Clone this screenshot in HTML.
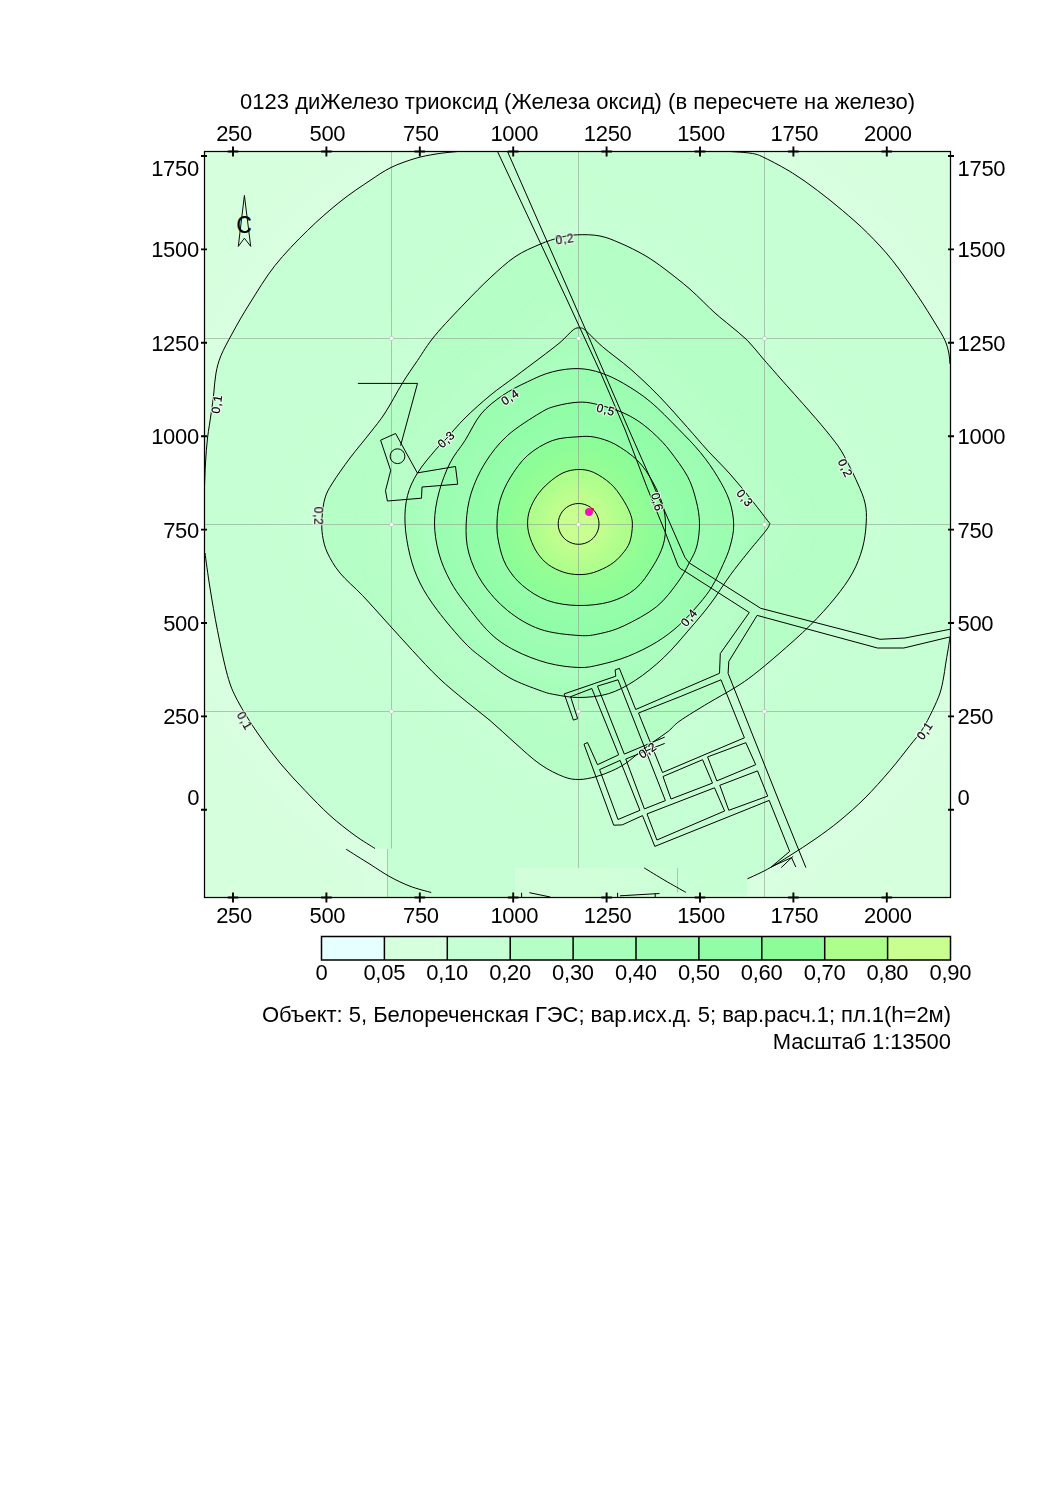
<!DOCTYPE html>
<html lang="ru"><head><meta charset="utf-8"><title>0123 диЖелезо триоксид</title>
<style>
html,body{margin:0;padding:0;background:#fff}
body{width:1060px;height:1499px;overflow:hidden}
svg{display:block}
text{font-family:"Liberation Sans",sans-serif;fill:#000}
.t{font-size:22px}
.l{font-size:12px;letter-spacing:.7px;fill:#f6fff6;stroke:#f6fff6;stroke-width:2.4px;opacity:.9;stroke-linejoin:round}
.m{font-size:12px;letter-spacing:.7px;stroke:#000;stroke-width:.2px}
.c{fill:none;stroke:#000;stroke-width:1}
.r{fill:none;stroke:#000;stroke-width:1;stroke-linejoin:miter}
.g{stroke:#8fa492;stroke-opacity:.62;stroke-width:1}
</style></head><body>
<svg width="1060" height="1499" viewBox="0 0 1060 1499">
<defs><clipPath id="cp"><rect x="204.5" y="151.5" width="746.0" height="746.0"/></clipPath>
<linearGradient id="fade" x1="0" x2="1" y1="0" y2="0"><stop offset="0" stop-color="#d2ffda"/><stop offset=".55" stop-color="#cfffd8"/><stop offset="1" stop-color="#c6ffd3" stop-opacity="0"/></linearGradient>
</defs>
<rect width="1060" height="1499" fill="#fff"/>

<defs>
<path id="p1" d="M457.5 140L457.5 151.5C453.9 151.9 443.1 152.8 436.0 154.0C428.9 155.2 422.5 156.2 415.0 158.5C407.5 160.8 398.5 163.8 391.0 167.5C383.5 171.2 378.5 174.8 370.0 180.5C361.5 186.2 350.4 193.4 340.0 201.8C329.6 210.1 318.3 219.9 307.5 230.5C296.7 241.1 284.6 253.4 275.0 265.5C265.4 277.6 257.1 291.8 250.0 303.0C242.9 314.2 237.3 324.2 232.5 333.0C227.7 341.8 223.8 348.8 221.0 355.5C218.2 362.2 217.2 366.8 216.0 373.0C214.8 379.2 214.5 386.3 213.8 393.0C213.0 399.7 212.3 405.5 211.2 413.0C210.2 420.5 208.5 429.7 207.5 438.0C206.5 446.3 206.0 455.1 205.5 463.0C205.0 470.9 204.7 481.8 204.5 485.5L195 485.5L195 553L205.0 553.0C205.8 558.8 207.9 575.1 210.0 588.0C212.1 600.9 214.6 615.9 217.5 630.5C220.4 645.1 224.2 663.8 227.5 675.5C230.8 687.2 232.5 690.9 237.5 700.5C242.5 710.1 250.4 722.6 257.5 733.0C264.6 743.4 272.1 753.4 280.0 763.0C287.9 772.6 296.7 781.8 305.0 790.5C313.3 799.2 321.7 808.0 330.0 815.5C338.3 823.0 347.5 830.0 355.0 835.5C362.5 841.0 371.7 846.3 375.0 848.5L388 848.5L388 905L747 905L747 879L747.5 878.8C750.8 877.2 760.4 873.1 767.5 869.2C774.6 865.4 782.1 860.5 790.0 855.5C797.9 850.5 806.7 845.1 815.0 839.2C823.3 833.4 831.7 827.4 840.0 820.5C848.3 813.6 856.7 806.3 865.0 798.0C873.3 789.7 882.5 779.2 890.0 770.5C897.5 761.8 904.7 752.2 910.0 745.5C915.3 738.8 918.2 735.8 922.0 730.0C925.8 724.2 929.5 716.7 932.5 710.5C935.5 704.3 938.2 698.4 940.0 693.0C941.8 687.6 942.6 682.7 943.5 678.0C944.4 673.3 944.8 669.7 945.5 665.0C946.2 660.3 947.2 654.7 948.0 650.0C948.8 645.3 949.7 639.2 950.0 637.0L960 637L960 364L950.0 364.0C949.8 362.2 949.6 356.9 948.8 353.0C947.9 349.1 947.3 345.5 945.0 340.5C942.7 335.5 939.6 330.5 935.0 323.0C930.4 315.5 924.6 305.9 917.5 295.5C910.4 285.1 900.8 270.9 892.5 260.5C884.2 250.1 875.8 241.3 867.5 233.0C859.2 224.7 850.8 217.6 842.5 210.5C834.2 203.4 825.8 196.8 817.5 190.5C809.2 184.2 801.2 178.4 792.5 173.0C783.8 167.6 771.7 161.2 765.0 158.0C758.3 154.8 758.3 154.6 752.5 153.5C746.7 152.4 733.8 151.8 730.0 151.5L730 140Z"/>
<path id="p2" d="M577.5 234.8C584.2 234.5 592.9 234.6 600.0 236.0C607.1 237.4 612.5 239.8 620.0 243.0C627.5 246.2 637.5 251.1 645.0 255.5C652.5 259.9 657.5 263.6 665.0 269.2C672.5 274.9 681.7 282.0 690.0 289.2C698.3 296.5 708.3 307.0 715.0 313.0C721.7 319.0 724.6 320.9 730.0 325.5C735.4 330.1 742.1 335.1 747.5 340.5C752.9 345.9 757.1 351.8 762.5 358.0C767.9 364.2 772.1 369.0 780.0 378.0C787.9 387.0 801.7 402.2 810.0 411.8C818.3 421.3 824.6 428.6 830.0 435.5C835.4 442.4 837.9 445.1 842.5 453.0C847.1 460.9 853.8 474.7 857.5 483.0C861.2 491.3 863.5 496.3 865.0 503.0C866.5 509.7 866.7 515.5 866.2 523.0C865.8 530.5 864.8 539.7 862.5 548.0C860.2 556.3 857.1 564.7 852.5 573.0C847.9 581.3 842.1 589.2 835.0 598.0C827.9 606.8 819.3 616.2 810.0 625.5C800.7 634.8 788.5 645.4 779.1 653.6C769.7 661.8 760.9 669.1 753.6 674.8C746.3 680.4 742.8 682.8 735.2 687.5C727.7 692.2 717.5 697.6 708.3 703.1C699.1 708.6 686.7 716.1 680.0 720.8C673.3 725.5 672.5 728.0 668.2 731.4C663.9 734.8 658.8 737.9 654.1 741.3C649.4 744.7 644.7 748.3 640.0 752.0C635.3 755.7 630.5 760.1 625.8 763.3C621.1 766.5 616.6 768.8 611.6 771.0C606.6 773.2 601.4 775.3 596.0 776.7C590.6 778.1 584.4 779.5 579.0 779.5C573.6 779.5 570.0 779.2 563.5 776.7C557.0 774.2 548.1 769.9 540.0 764.2C531.9 758.6 523.3 750.3 515.0 743.0C506.7 735.7 498.3 727.6 490.0 720.5C481.7 713.4 473.5 707.6 465.0 700.5C456.5 693.4 447.5 686.3 438.8 678.0C430.0 669.7 421.0 659.7 412.5 650.5C404.0 641.3 395.8 632.2 387.5 623.0C379.2 613.8 370.4 603.8 362.5 595.5C354.6 587.2 345.8 580.1 340.0 573.0C334.2 565.9 330.4 559.2 327.5 553.0C324.6 546.8 323.4 541.3 322.5 535.5C321.6 529.7 321.6 524.2 322.0 518.0C322.4 511.8 323.2 503.8 325.0 498.0C326.8 492.2 328.3 489.7 332.5 483.0C336.7 476.3 343.8 466.3 350.0 458.0C356.2 449.7 364.2 440.5 370.0 433.0C375.8 425.5 379.6 421.3 385.0 413.0C390.4 404.7 397.1 391.8 402.5 383.0C407.9 374.2 412.1 368.4 417.5 360.5C422.9 352.6 427.1 345.1 435.0 335.5C442.9 325.9 455.8 312.6 465.0 303.0C474.2 293.4 481.7 285.7 490.0 278.0C498.3 270.3 506.7 262.4 515.0 256.8C523.3 251.1 532.5 247.5 540.0 244.2C547.5 241.0 553.8 239.1 560.0 237.5C566.2 235.9 570.8 235.0 577.5 234.8Z"/>
<path id="p3" d="M579.8 328.0C581.8 328.1 581.7 327.3 585.5 330.4C589.3 333.5 595.0 340.2 602.5 346.7C610.0 353.2 621.4 361.1 630.8 369.3C640.2 377.6 649.7 386.5 659.1 396.2C668.5 405.9 679.4 418.4 687.4 427.4C695.4 436.4 700.1 442.2 707.2 450.0C714.3 457.8 722.9 466.0 730.0 474.0C737.1 482.0 743.8 490.2 750.0 498.0C756.2 505.8 764.2 516.1 767.5 520.5C770.8 524.9 769.9 522.4 769.5 524.2C769.1 526.1 768.7 527.0 765.0 531.8C761.3 536.5 753.3 545.7 747.5 553.0C741.7 560.3 736.2 567.0 730.0 575.5C723.8 584.0 717.0 595.2 710.4 603.9C703.8 612.6 698.4 618.9 690.6 627.9C682.8 636.9 672.9 648.9 663.7 657.6C654.5 666.3 644.6 674.3 635.4 680.3C626.2 686.3 617.9 690.8 608.5 693.7C599.1 696.6 587.9 697.4 579.0 697.5C570.1 697.6 561.5 695.8 555.0 694.6C548.5 693.4 547.5 693.3 540.0 690.5C532.5 687.7 519.2 683.1 510.0 678.0C500.8 672.9 492.5 665.8 485.0 660.0C477.5 654.2 472.9 651.2 465.0 643.0C457.1 634.8 445.0 620.5 437.5 610.5C430.0 600.5 424.6 592.2 420.0 583.0C415.4 573.8 412.5 565.5 410.0 555.5C407.5 545.5 405.4 533.0 405.0 523.0C404.6 513.0 405.4 503.8 407.5 495.5C409.6 487.2 412.9 480.5 417.5 473.0C422.1 465.5 430.2 456.2 435.0 450.5C439.8 444.8 441.0 444.4 446.0 439.0C451.0 433.6 457.7 425.2 465.0 418.0C472.3 410.8 481.7 402.4 490.0 395.5C498.3 388.6 506.7 383.0 515.0 376.8C523.3 370.5 532.5 363.7 540.0 358.0C547.5 352.3 554.4 347.2 560.0 342.5C565.6 337.8 570.1 332.1 573.4 329.7C576.7 327.3 577.8 327.9 579.8 328.0Z"/>
<path id="p4" d="M578.4 368.6C586.5 368.8 593.5 370.4 601.0 372.9C608.5 375.4 615.4 378.7 623.7 383.5C632.0 388.3 641.6 394.4 650.6 401.9C659.6 409.4 669.7 420.1 678.0 428.5C686.3 436.9 693.9 444.6 700.5 452.6C707.1 460.6 712.7 468.7 717.5 476.7C722.3 484.7 726.8 492.8 729.5 500.8C732.2 508.8 733.6 517.3 733.7 524.8C733.8 532.3 732.0 539.4 730.2 546.0C728.4 552.6 726.2 557.6 723.1 564.4C720.0 571.2 715.8 580.3 711.8 586.9C707.8 593.5 704.5 597.5 699.1 603.9C693.7 610.3 686.3 618.7 679.2 625.1C672.1 631.5 665.1 636.9 656.6 642.1C648.1 647.3 637.7 652.4 628.3 656.2C618.9 660.0 608.3 662.8 600.0 664.7C591.7 666.6 587.5 667.8 578.8 667.5C570.0 667.2 558.1 665.8 547.5 663.0C536.9 660.2 524.6 655.5 515.0 650.5C505.4 645.5 498.3 640.9 490.0 633.0C481.7 625.1 471.7 611.8 465.0 603.0C458.3 594.2 454.4 588.8 450.0 580.5C445.6 572.2 441.3 562.6 438.8 553.0C436.2 543.4 434.5 533.0 434.5 523.0C434.5 513.0 436.2 503.0 438.8 493.0C441.3 483.0 445.6 471.8 450.0 463.0C454.4 454.2 459.8 448.7 465.0 440.5C470.2 432.3 474.8 421.5 481.0 414.0C487.2 406.5 494.8 400.9 502.5 395.5C510.2 390.1 519.2 385.7 527.5 381.8C535.8 377.8 544.0 373.9 552.5 371.8C561.0 369.6 570.3 368.4 578.4 368.6Z"/>
<path id="p5" d="M578.4 402.2C585.0 401.9 588.3 402.4 595.4 404.0C602.5 405.6 613.5 408.9 620.8 411.8C628.1 414.8 633.3 417.7 639.2 421.7C645.1 425.7 651.1 430.9 656.2 435.8C661.3 440.7 664.8 444.2 670.0 451.0C675.2 457.8 683.3 468.4 687.7 476.7C692.1 485.0 694.2 493.0 696.2 500.8C698.2 508.6 699.4 515.9 699.5 523.4C699.6 530.9 698.6 539.4 696.9 546.0C695.2 552.6 692.4 557.0 689.2 563.0C686.1 569.0 683.4 574.7 678.0 582.0C672.6 589.3 665.6 599.4 656.6 606.7C647.6 614.0 633.4 621.3 624.0 625.8C614.6 630.3 607.5 632.0 600.0 633.6C592.5 635.2 588.8 636.2 578.8 635.5C568.8 634.8 551.9 633.4 540.0 629.2C528.1 625.1 517.1 618.2 507.5 610.5C497.9 602.8 489.0 592.6 482.5 583.0C476.0 573.4 471.5 563.0 468.8 553.0C466.0 543.0 465.8 533.0 466.2 523.0C466.7 513.0 468.1 503.0 471.2 493.0C474.4 483.0 479.0 472.6 485.0 463.0C491.0 453.4 498.3 443.8 507.5 435.5C516.7 427.2 531.9 417.9 540.0 413.0C548.1 408.1 549.6 407.8 556.0 406.0C562.4 404.2 571.8 402.5 578.4 402.2Z"/>
<path id="p6" d="M578.0 436.8C585.1 436.2 588.8 436.0 595.0 437.2C601.2 438.5 607.9 440.4 615.0 444.2C622.1 448.1 631.2 454.3 637.5 460.5C643.8 466.7 648.4 474.2 652.5 481.5C656.6 488.8 660.2 496.9 662.4 504.0C664.6 511.1 665.4 517.2 665.5 524.0C665.6 530.8 665.4 537.8 663.2 545.0C661.0 552.2 657.2 559.6 652.5 567.0C647.8 574.4 642.1 583.5 635.0 589.2C627.9 595.0 619.5 599.0 610.0 601.8C600.5 604.5 588.4 605.7 578.0 605.5C567.6 605.3 556.8 603.8 547.5 600.5C538.2 597.2 529.4 591.3 522.5 585.5C515.6 579.7 510.2 572.6 506.2 565.5C502.3 558.4 500.3 550.1 498.8 543.0C497.2 535.9 496.8 530.1 497.0 523.0C497.2 515.9 497.8 508.0 500.0 500.5C502.2 493.0 505.4 485.5 510.0 478.0C514.6 470.5 520.4 461.8 527.5 455.5C534.6 449.2 544.1 443.6 552.5 440.5C560.9 437.4 570.9 437.3 578.0 436.8Z"/>
<path id="p7" d="M578.3 469.5C583.4 469.4 588.2 470.0 593.6 472.4C599.0 474.8 605.9 479.5 610.6 483.7C615.3 487.9 618.7 493.0 621.9 497.8C625.1 502.6 628.0 508.1 629.8 512.5C631.5 516.9 632.4 519.5 632.4 524.4C632.4 529.3 631.5 537.0 629.8 542.0C628.0 547.0 625.1 550.6 621.9 554.4C618.7 558.2 615.3 561.6 610.6 564.6C605.9 567.6 599.0 570.8 593.6 572.5C588.2 574.2 583.4 574.7 578.3 574.6C573.2 574.5 568.0 573.7 563.0 572.0C558.0 570.3 552.5 567.7 548.3 564.6C544.1 561.5 540.6 557.6 537.6 553.3C534.6 549.0 532.1 543.4 530.4 538.6C528.7 533.8 527.7 529.1 527.6 524.4C527.5 519.7 528.0 515.1 529.6 510.3C531.2 505.5 533.9 500.1 537.0 495.6C540.1 491.1 544.0 486.9 548.3 483.1C552.6 479.3 558.0 475.2 563.0 472.9C568.0 470.6 573.2 469.6 578.3 469.5Z"/>
<path id="p8" d="M578.6 503.5C580.7 503.5 582.9 503.8 584.9 504.5C586.9 505.1 588.9 506.2 590.6 507.4C592.3 508.6 593.9 510.2 595.1 511.9C596.3 513.6 597.4 515.6 598.0 517.6C598.7 519.6 599.0 521.8 599.0 523.9C599.0 526.0 598.7 528.2 598.0 530.2C597.4 532.2 596.3 534.2 595.1 535.9C593.9 537.6 592.3 539.2 590.6 540.4C588.9 541.6 586.9 542.7 584.9 543.3C582.9 544.0 580.7 544.3 578.6 544.3C576.5 544.3 574.3 544.0 572.3 543.3C570.3 542.7 568.3 541.6 566.6 540.4C564.9 539.2 563.3 537.6 562.1 535.9C560.9 534.2 559.8 532.2 559.2 530.2C558.5 528.2 558.2 526.0 558.2 523.9C558.2 521.8 558.5 519.6 559.2 517.6C559.8 515.6 560.9 513.6 562.1 511.9C563.3 510.2 564.9 508.6 566.6 507.4C568.3 506.2 570.3 505.1 572.3 504.5C574.3 503.8 576.5 503.5 578.6 503.5Z"/>
<clipPath id="k1"><use href="#p1"/></clipPath>
<clipPath id="k2"><use href="#p2"/></clipPath>
<clipPath id="k3"><use href="#p3"/></clipPath>
<clipPath id="k4"><use href="#p4"/></clipPath>
<clipPath id="k5"><use href="#p5"/></clipPath>
<clipPath id="k6"><use href="#p6"/></clipPath>
<clipPath id="k7"><use href="#p7"/></clipPath>
<filter id="b1" x="100" y="50" width="960" height="960" filterUnits="userSpaceOnUse"><feGaussianBlur stdDeviation="16"/></filter>
<filter id="b2" x="100" y="50" width="960" height="960" filterUnits="userSpaceOnUse"><feGaussianBlur stdDeviation="20"/></filter>
<filter id="b3" x="100" y="50" width="960" height="960" filterUnits="userSpaceOnUse"><feGaussianBlur stdDeviation="11"/></filter>
<filter id="b4" x="100" y="50" width="960" height="960" filterUnits="userSpaceOnUse"><feGaussianBlur stdDeviation="7"/></filter>
<filter id="b5" x="100" y="50" width="960" height="960" filterUnits="userSpaceOnUse"><feGaussianBlur stdDeviation="7.5"/></filter>
</defs>
<g clip-path="url(#cp)">
<rect x="120" y="70" width="916" height="910" fill="#d6ffde"/>
<use href="#p1" fill="none" stroke="#d8ffe0" stroke-width="64" filter="url(#b1)"/>
<use href="#p1" fill="#c6ffd3"/>
<g clip-path="url(#k1)"><use href="#p2" fill="none" stroke="#c8ffd4" stroke-width="80" filter="url(#b2)"/></g>
<use href="#p2" fill="#b5fec6"/>
<g clip-path="url(#k2)"><use href="#p3" fill="none" stroke="#b9fec9" stroke-width="44" filter="url(#b3)"/></g>
<use href="#p3" fill="#a6feba"/>
<g clip-path="url(#k3)"><use href="#p4" fill="none" stroke="#acfebf" stroke-width="28" filter="url(#b4)"/></g>
<use href="#p4" fill="#9afdb0"/>
<g clip-path="url(#k4)"><use href="#p5" fill="none" stroke="#9ffdb4" stroke-width="30" filter="url(#b5)"/></g>
<use href="#p5" fill="#91fda7"/>
<g clip-path="url(#k5)"><use href="#p6" fill="none" stroke="#95fdab" stroke-width="30" filter="url(#b5)"/></g>
<use href="#p6" fill="#8cfd97"/>
<g clip-path="url(#k6)"><use href="#p7" fill="none" stroke="#96fd94" stroke-width="30" filter="url(#b5)"/></g>
<use href="#p7" fill="#aefe8c"/>
<g clip-path="url(#k7)"><use href="#p8" fill="none" stroke="#c2fe8e" stroke-width="30" filter="url(#b5)"/></g>
<use href="#p8" fill="#c9ff90"/>
<rect x="515" y="868" width="232" height="30" fill="url(#fade)"/><rect x="600" y="892.5" width="147" height="6" fill="#cfffd8" opacity=".8"/>
</g>
<g class="g" clip-path="url(#cp)">
<line x1="391.5" y1="151" x2="391.5" y2="848.5"/>
<line x1="578.5" y1="151" x2="578.5" y2="868.0"/>
<line x1="764.5" y1="151" x2="764.5" y2="898.0"/>
<line x1="204" y1="338.5" x2="951" y2="338.5"/>
<line x1="204" y1="524.5" x2="951" y2="524.5"/>
<line x1="204" y1="711.5" x2="951" y2="711.5"/>
<line x1="387.5" y1="849" x2="387.5" y2="898"/><line x1="677.5" y1="868" x2="677.5" y2="892.5"/>
</g>
<g fill="#fff" stroke="#b9c9ba" stroke-width=".8">
<circle cx="391.5" cy="338.5" r="2.1"/>
<circle cx="391.5" cy="524.5" r="2.1"/>
<circle cx="391.5" cy="711.5" r="2.1"/>
<circle cx="578.5" cy="338.5" r="2.1"/>
<circle cx="578.5" cy="524.5" r="2.1"/>
<circle cx="578.5" cy="711.5" r="2.1"/>
<circle cx="764.5" cy="338.5" r="2.1"/>
<circle cx="764.5" cy="524.5" r="2.1"/>
<circle cx="764.5" cy="711.5" r="2.1"/>
</g>
<g class="c" clip-path="url(#cp)">
<path d="M457.5 151.5C453.9 151.9 443.1 152.8 436.0 154.0C428.9 155.2 422.5 156.2 415.0 158.5C407.5 160.8 398.5 163.8 391.0 167.5C383.5 171.2 378.5 174.8 370.0 180.5C361.5 186.2 350.4 193.4 340.0 201.8C329.6 210.1 318.3 219.9 307.5 230.5C296.7 241.1 284.6 253.4 275.0 265.5C265.4 277.6 257.1 291.8 250.0 303.0C242.9 314.2 237.3 324.2 232.5 333.0C227.7 341.8 223.8 348.8 221.0 355.5C218.2 362.2 217.2 366.8 216.0 373.0C214.8 379.2 214.5 386.3 213.8 393.0C213.0 399.7 212.3 405.5 211.2 413.0C210.2 420.5 208.5 429.7 207.5 438.0C206.5 446.3 206.0 455.1 205.5 463.0C205.0 470.9 204.7 481.8 204.5 485.5"/>
<path d="M205.0 553.0C205.8 558.8 207.9 575.1 210.0 588.0C212.1 600.9 214.6 615.9 217.5 630.5C220.4 645.1 224.2 663.8 227.5 675.5C230.8 687.2 232.5 690.9 237.5 700.5C242.5 710.1 250.4 722.6 257.5 733.0C264.6 743.4 272.1 753.4 280.0 763.0C287.9 772.6 296.7 781.8 305.0 790.5C313.3 799.2 321.7 808.0 330.0 815.5C338.3 823.0 347.5 830.0 355.0 835.5C362.5 841.0 371.7 846.3 375.0 848.5"/>
<path d="M346.2 849.2C350.2 851.8 362.7 859.7 370.0 864.2C377.3 868.8 383.3 873.1 390.0 876.8C396.7 880.4 403.1 883.6 410.0 886.2C416.9 888.9 427.7 891.5 431.2 892.5"/>
<path d="M730.0 151.5C733.8 151.8 746.7 152.4 752.5 153.5C758.3 154.6 758.3 154.8 765.0 158.0C771.7 161.2 783.8 167.6 792.5 173.0C801.2 178.4 809.2 184.2 817.5 190.5C825.8 196.8 834.2 203.4 842.5 210.5C850.8 217.6 859.2 224.7 867.5 233.0C875.8 241.3 884.2 250.1 892.5 260.5C900.8 270.9 910.4 285.1 917.5 295.5C924.6 305.9 930.4 315.5 935.0 323.0C939.6 330.5 942.7 335.5 945.0 340.5C947.3 345.5 947.9 349.1 948.8 353.0C949.6 356.9 949.8 362.2 950.0 364.0"/>
<path d="M950.0 637.0C949.7 639.2 948.8 645.3 948.0 650.0C947.2 654.7 946.2 660.3 945.5 665.0C944.8 669.7 944.4 673.3 943.5 678.0C942.6 682.7 941.8 687.6 940.0 693.0C938.2 698.4 935.5 704.3 932.5 710.5C929.5 716.7 925.8 724.2 922.0 730.0C918.2 735.8 915.3 738.8 910.0 745.5C904.7 752.2 897.5 761.8 890.0 770.5C882.5 779.2 873.3 789.7 865.0 798.0C856.7 806.3 848.3 813.6 840.0 820.5C831.7 827.4 823.3 833.4 815.0 839.2C806.7 845.1 797.9 850.5 790.0 855.5C782.1 860.5 774.6 865.4 767.5 869.2C760.4 873.1 750.8 877.2 747.5 878.8"/>
<path d="M644.2 867.9C647.7 870.0 658.0 876.4 665.0 880.5C672.0 884.6 682.4 890.4 685.9 892.4"/>
<use href="#p2"/>
<use href="#p3"/>
<use href="#p4"/>
<use href="#p5"/>
<use href="#p6"/>
<use href="#p7"/>
<use href="#p8"/>
</g>
<g class="r" clip-path="url(#cp)">
<path d="M497.5 151.5L567.1 300.0L601.0 373.6L625.2 430.0L646.7 486.6L665.1 531.9L677.8 565.1L680.0 568.4L683.5 570.4L749.3 612.5L720.3 653.5L719.5 673.3L635.7 709.5"/>
<path d="M507.5 151.5L572.7 300.0L604.6 373.6L629.0 430.0L650.9 479.5L665.1 512.1L684.9 557.4L689.2 562.9L760.7 608.3L880.0 639.3L905.0 638.0L950.5 629.2"/>
<path d="M950.5 636.8L903.8 648.0L877.5 648.0L757.1 615.4L728.8 661.4L728.1 673.4L780.5 805.0L805.9 867.6"/>
<path d="M680.0 696.7L721.0 679.8L744.4 737.8L662.5 772.5"/>
<path d="M769.2 800.4L789.7 851.4L771.3 866.9L791.5 857.6L795.8 867.0"/>
<path d="M781.2 867.6L793.2 856.3"/>
<path d="M357.9 383.4L417.5 383.4L400.6 445.6"/>
<path d="M380.6 440.2L395.6 433.5L417.3 472.9L455.5 466.5L457.7 484.2L422.0 487.0L421.5 498.2L387.4 501.0L385.5 490.7L390.7 470.5L380.6 440.2"/>
<path d="M564.2 693.9L615.8 676.2L615.1 669.9L619.4 668.4L635.7 709.5"/>
<path d="M564.2 693.9L573.4 720.1L577.6 718.7L570.6 696.7L591.8 688.5L618.7 754.8L597.5 764.7L587.5 742.5L584.0 744.2L613.7 825.2L622.2 824.9L642.5 815.6L654.8 846.4L769.2 800.4"/>
<path d="M597.5 686.1L618.0 679.8L665.4 800.6L644.4 808.9L625.8 759.0L664.7 743.4"/>
<path d="M597.5 686.1L624.3 754.1L664.7 737.1"/>
<path d="M599.6 769.6L620.1 760.4L639.9 810.3L618.0 819.5L599.6 769.6"/>
<path d="M638.5 713.0L662.5 772.5"/>
<path d="M680.0 696.7L638.5 713.0"/>
<path d="M663.0 776.5L702.6 759.7L712.5 783.1L671.0 799.0L663.0 776.5"/>
<path d="M707.6 756.9L745.8 742.7L755.7 764.7L716.8 780.9L707.6 756.9"/>
<path d="M719.8 785.3L757.5 770.9L767.7 796.1L728.8 810.3L719.8 785.3"/>
<path d="M647.0 813.9L714.5 787.8L724.6 811.0L656.9 840.0L647.0 813.9"/>
<circle cx="397.5" cy="456.2" r="7.4"/>
<path d="M620 895.8L659.5 893.5M655.2 893.5V897M617.6 892.8V897M521.6 892.8V897M529.4 892.7L550.3 897"/>
</g>
<path class="r" d="M244.4 195.4L250.7 246.4L244.4 238.2L238.3 246.4Z" style="stroke-width:.95;stroke-linejoin:bevel"/>
<text transform="translate(244 232.9) scale(.91 1)" font-size="23" text-anchor="middle" stroke="#000" stroke-width=".25">С</text>
<rect x="591.2" y="508" width="2.6" height="2.6" fill="#c01828"/>
<circle cx="589" cy="512" r="3.7" fill="#fb09c6" stroke="#e8208c" stroke-width=".8"/>
<g class="l" text-anchor="middle">
<text transform="translate(216.6 404.0) rotate(-82)" y="4.3">0,1</text>
<text transform="translate(565.0 239.3) rotate(-8)" y="4.3">0,2</text>
<text transform="translate(510.0 396.8) rotate(-35)" y="4.3">0,4</text>
<text transform="translate(446.2 439.3) rotate(-43)" y="4.3">0,3</text>
<text transform="translate(606.0 409.5) rotate(15)" y="4.3">0,5</text>
<text transform="translate(318.3 516.2) rotate(90)" y="4.3">0,2</text>
<text transform="translate(657.5 502.0) rotate(76)" y="4.3">0,6</text>
<text transform="translate(745.0 498.0) rotate(50)" y="4.3">0,3</text>
<text transform="translate(845.5 468.0) rotate(65)" y="4.3">0,2</text>
<text transform="translate(689.0 617.5) rotate(-50)" y="4.3">0,4</text>
<text transform="translate(647.5 750.0) rotate(-35)" y="4.3">0,2</text>
<text transform="translate(244.5 721.0) rotate(60)" y="4.3">0,1</text>
<text transform="translate(924.5 730.5) rotate(-55)" y="4.3">0,1</text>
</g>
<g class="m" text-anchor="middle">
<text transform="translate(216.6 404.0) rotate(-82)" y="4.3">0,1</text>
<text transform="translate(565.0 239.3) rotate(-8)" y="4.3">0,2</text>
<text transform="translate(510.0 396.8) rotate(-35)" y="4.3">0,4</text>
<text transform="translate(446.2 439.3) rotate(-43)" y="4.3">0,3</text>
<text transform="translate(606.0 409.5) rotate(15)" y="4.3">0,5</text>
<text transform="translate(318.3 516.2) rotate(90)" y="4.3">0,2</text>
<text transform="translate(657.5 502.0) rotate(76)" y="4.3">0,6</text>
<text transform="translate(745.0 498.0) rotate(50)" y="4.3">0,3</text>
<text transform="translate(845.5 468.0) rotate(65)" y="4.3">0,2</text>
<text transform="translate(689.0 617.5) rotate(-50)" y="4.3">0,4</text>
<text transform="translate(647.5 750.0) rotate(-35)" y="4.3">0,2</text>
<text transform="translate(244.5 721.0) rotate(60)" y="4.3">0,1</text>
<text transform="translate(924.5 730.5) rotate(-55)" y="4.3">0,1</text>
</g>
<rect x="204.5" y="151.5" width="746.0" height="746.0" fill="none" stroke="#000" stroke-width="1.25"/>
<path d="M233.0 146.6V156.6M227.7 151.5H238.3M233.0 892.6V902.6M227.7 897.5H238.3M326.4 146.6V156.6M321.1 151.5H331.7M326.4 892.6V902.6M321.1 897.5H331.7M419.8 146.6V156.6M414.5 151.5H425.1M419.8 892.6V902.6M414.5 897.5H425.1M513.2 146.6V156.6M507.9 151.5H518.5M513.2 892.6V902.6M507.9 897.5H518.5M606.6 146.6V156.6M601.3 151.5H611.9M606.6 892.6V902.6M601.3 897.5H611.9M700.0 146.6V156.6M694.7 151.5H705.3M700.0 892.6V902.6M694.7 897.5H705.3M793.4 146.6V156.6M788.1 151.5H798.7M793.4 892.6V902.6M788.1 897.5H798.7M886.8 146.6V156.6M881.5 151.5H892.1M886.8 892.6V902.6M881.5 897.5H892.1M201 156.0H207M948 156.0H954M201 249.4H207M948 249.4H954M201 342.8H207M948 342.8H954M201 436.2H207M948 436.2H954M201 529.6H207M948 529.6H954M201 623.0H207M948 623.0H954M201 716.4H207M948 716.4H954M201 809.8H207M948 809.8H954" stroke="#000" stroke-width="1.9" fill="none"/>
<g class="t" text-anchor="middle">
<text x="234.2" y="140.5" textLength="36">250</text><text x="234.2" y="923.2" textLength="36">250</text>
<text x="327.6" y="140.5" textLength="36">500</text><text x="327.6" y="923.2" textLength="36">500</text>
<text x="421.0" y="140.5" textLength="36">750</text><text x="421.0" y="923.2" textLength="36">750</text>
<text x="514.4" y="140.5" textLength="48">1000</text><text x="514.4" y="923.2" textLength="48">1000</text>
<text x="607.8" y="140.5" textLength="48">1250</text><text x="607.8" y="923.2" textLength="48">1250</text>
<text x="701.2" y="140.5" textLength="48">1500</text><text x="701.2" y="923.2" textLength="48">1500</text>
<text x="794.6" y="140.5" textLength="48">1750</text><text x="794.6" y="923.2" textLength="48">1750</text>
<text x="888.0" y="140.5" textLength="48">2000</text><text x="888.0" y="923.2" textLength="48">2000</text>
</g>
<text class="t" x="151.2" y="175.8" textLength="48">1750</text><text class="t" x="957.6" y="175.8" textLength="48">1750</text>
<text class="t" x="151.2" y="257.3" textLength="48">1500</text><text class="t" x="957.6" y="257.3" textLength="48">1500</text>
<text class="t" x="151.2" y="350.7" textLength="48">1250</text><text class="t" x="957.6" y="350.7" textLength="48">1250</text>
<text class="t" x="151.2" y="444.1" textLength="48">1000</text><text class="t" x="957.6" y="444.1" textLength="48">1000</text>
<text class="t" x="163.2" y="537.5" textLength="36">750</text><text class="t" x="957.6" y="537.5" textLength="36">750</text>
<text class="t" x="163.2" y="630.9" textLength="36">500</text><text class="t" x="957.6" y="630.9" textLength="36">500</text>
<text class="t" x="163.2" y="724.3" textLength="36">250</text><text class="t" x="957.6" y="724.3" textLength="36">250</text>
<text class="t" x="187.2" y="804.8" textLength="12">0</text><text class="t" x="957.6" y="804.8" textLength="12">0</text>
<text class="t" x="239.9" y="108.9" textLength="675.2">0123 диЖелезо триоксид (Железа оксид) (в пересчете на железо)</text>
<text class="t" x="261.9" y="1022.1" textLength="689.1">Объект: 5, Белореченская ГЭС; вар.исх.д. 5; вар.расч.1; пл.1(h=2м)</text>
<text class="t" x="772.7" y="1048.9" textLength="178.2">Масштаб 1:13500</text>
<rect x="321.5" y="936.6" width="62.9" height="23.3" fill="#e6ffff"/>
<rect x="384.4" y="936.6" width="62.9" height="23.3" fill="#d6ffde"/>
<rect x="447.3" y="936.6" width="62.9" height="23.3" fill="#c6ffd3"/>
<rect x="510.2" y="936.6" width="62.9" height="23.3" fill="#b5fec6"/>
<rect x="573.1" y="936.6" width="62.9" height="23.3" fill="#a6feba"/>
<rect x="636.0" y="936.6" width="62.9" height="23.3" fill="#9afdb0"/>
<rect x="698.9" y="936.6" width="62.9" height="23.3" fill="#91fda7"/>
<rect x="761.8" y="936.6" width="62.9" height="23.3" fill="#8cfd97"/>
<rect x="824.7" y="936.6" width="62.9" height="23.3" fill="#aefe8c"/>
<rect x="887.6" y="936.6" width="62.9" height="23.3" fill="#c9ff90"/>
<path d="M321.5 936.6H950.5V959.9H321.5ZM384.4 936.6V959.9M447.3 936.6V959.9M510.2 936.6V959.9M573.1 936.6V959.9M636.0 936.6V959.9M698.9 936.6V959.9M761.8 936.6V959.9M824.7 936.6V959.9M887.6 936.6V959.9" fill="none" stroke="#000" stroke-width="1.5"/>
<g class="t" text-anchor="middle">
<text x="321.5" y="979.7" textLength="12">0</text>
<text x="384.4" y="979.7" textLength="42">0,05</text>
<text x="447.3" y="979.7" textLength="42">0,10</text>
<text x="510.2" y="979.7" textLength="42">0,20</text>
<text x="573.1" y="979.7" textLength="42">0,30</text>
<text x="636.0" y="979.7" textLength="42">0,40</text>
<text x="698.9" y="979.7" textLength="42">0,50</text>
<text x="761.8" y="979.7" textLength="42">0,60</text>
<text x="824.7" y="979.7" textLength="42">0,70</text>
<text x="887.6" y="979.7" textLength="42">0,80</text>
<text x="950.5" y="979.7" textLength="42">0,90</text>
</g>
</svg></body></html>
